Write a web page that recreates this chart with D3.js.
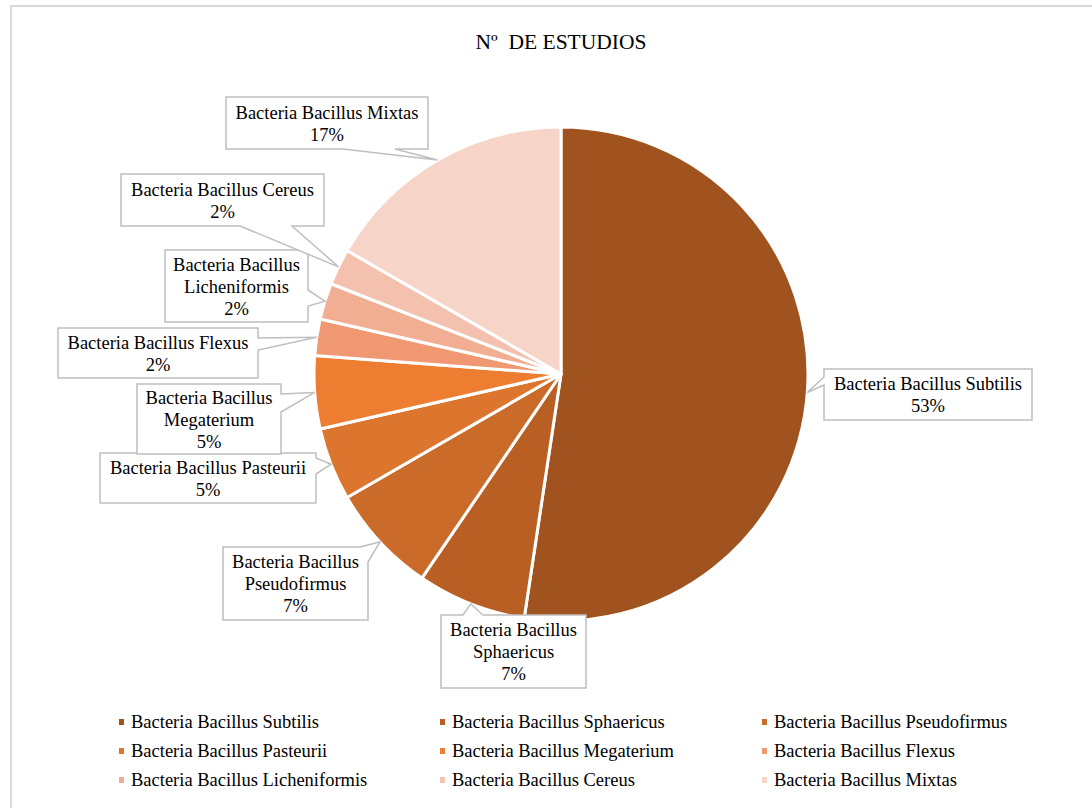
<!DOCTYPE html>
<html>
<head>
<meta charset="utf-8">
<script src="https://cdn.jsdelivr.net/npm/d3@7"></script>
<style>
  body { margin: 0; background: #fff; }
  text { font-family: "Liberation Serif", "Times New Roman", serif; fill: #000; }
</style>
</head>
<body>
<script>
// data (number of studies per category)
var categories = ["Bacteria Bacillus Subtilis", "Bacteria Bacillus Sphaericus", "Bacteria Bacillus Pseudofirmus",
  "Bacteria Bacillus Pasteurii", "Bacteria Bacillus Megaterium", "Bacteria Bacillus Flexus",
  "Bacteria Bacillus Licheniformis", "Bacteria Bacillus Cereus", "Bacteria Bacillus Mixtas"];
var studies = [22, 3, 3, 2, 2, 1, 1, 1, 7];
var pctLabels = ["53%", "7%", "7%", "5%", "5%", "2%", "2%", "2%", "17%"];
var colors = ["#A1531F", "#B95F24", "#CA6B2A", "#DC752E", "#ED7D31", "#F09871", "#F2AE92", "#F4C1AE", "#F7D4C8"];

var w = 1092, h = 808;
var cx = 561, cy = 374, r = 247;

// callout boxes: rect + which edge the pointer leaves from (b0,b1 = base along that edge)
var callouts = [
  {x: 824, y: 369, w: 208, h: 51, side: "left", b0: 377, b1: 385, lines: ["Bacteria Bacillus Subtilis"]},
  {x: 441, y: 615, w: 145, h: 73, side: "top", b0: 463, b1: 483, lines: ["Bacteria Bacillus", "Sphaericus"]},
  {x: 223, y: 547, w: 145, h: 73, side: "corner", b0: 360, b1: 562, lines: ["Bacteria Bacillus", "Pseudofirmus"]},
  {x: 100, y: 453, w: 216, h: 50, side: "right", b0: 458, b1: 474, lines: ["Bacteria Bacillus Pasteurii"]},
  {x: 137, y: 384, w: 144, h: 70, side: "right", b0: 394, b1: 412, lines: ["Bacteria Bacillus", "Megaterium"]},
  {x: 58, y: 328, w: 200, h: 50, side: "right", b0: 338, b1: 350, lines: ["Bacteria Bacillus Flexus"]},
  {x: 165, y: 250, w: 143, h: 72, side: "right", b0: 290, b1: 306, lines: ["Bacteria Bacillus", "Licheniformis"]},
  {x: 121, y: 174, w: 203, h: 52, side: "bottom", b0: 240, b1: 292, lines: ["Bacteria Bacillus Cereus"]},
  {x: 226, y: 97, w: 202, h: 52, side: "bottom", b0: 343, b1: 395, lines: ["Bacteria Bacillus Mixtas"]}
];

var svg = d3.select("body").append("svg")
  .attr("width", w)
  .attr("height", h);

// chart area border
svg.append("rect")
  .attr("x", 11).attr("y", 6)
  .attr("width", w + 20).attr("height", h + 20)
  .attr("fill", "none")
  .attr("stroke", "#D9D9D9")
  .attr("stroke-width", 2);

// title
svg.append("text")
  .attr("x", cx).attr("y", 48.5)
  .attr("text-anchor", "middle")
  .attr("font-size", 21.5)
  .attr("xml:space", "preserve")
  .text("Nº  DE ESTUDIOS");

var pie = d3.pie().sort(null).value(function(d) { return d; });
var arcs = pie(studies);
var arc = d3.arc().innerRadius(0).outerRadius(r);

var g = svg.append("g").attr("transform", "translate(" + cx + "," + cy + ")");
g.selectAll("path.slice")
  .data(arcs)
  .enter().append("path")
  .attr("class", "slice")
  .attr("d", arc)
  .attr("fill", function(d, i) { return colors[i]; })
  .attr("stroke", "#fff")
  .attr("stroke-width", 3)
  .attr("stroke-linejoin", "round");

// callouts
arcs.forEach(function(a, i) {
  var c = callouts[i];
  var mid = (a.startAngle + a.endAngle) / 2;
  var tx = cx + r * Math.sin(mid), ty = cy - r * Math.cos(mid);
  var x0 = c.x, y0 = c.y, x1 = c.x + c.w, y1 = c.y + c.h;
  var pts;
  if (c.side == "left") {
    pts = [[x0, y0], [x1, y0], [x1, y1], [x0, y1], [x0, c.b1], [tx, ty], [x0, c.b0]];
  } else if (c.side == "right") {
    pts = [[x0, y0], [x1, y0], [x1, c.b0], [tx, ty], [x1, c.b1], [x1, y1], [x0, y1]];
  } else if (c.side == "top") {
    pts = [[x0, y0], [c.b0, y0], [tx, ty], [c.b1, y0], [x1, y0], [x1, y1], [x0, y1]];
  } else if (c.side == "bottom") {
    pts = [[x0, y0], [x1, y0], [x1, y1], [c.b1, y1], [tx, ty], [c.b0, y1], [x0, y1]];
  } else {
    // top-right corner
    pts = [[x0, y0], [c.b0, y0], [tx, ty], [x1, c.b1], [x1, y1], [x0, y1]];
  }
  svg.append("path")
    .attr("d", "M" + pts.map(function(p) { return p.join(","); }).join("L") + "Z")
    .attr("fill", "#fff")
    .attr("stroke", "#BFBFBF")
    .attr("stroke-width", 1.5);

  var lines = c.lines.concat([pctLabels[i]]);
  var lh = 22;
  var top = c.y + c.h / 2 - (lines.length * lh) / 2;
  var t = svg.append("text")
    .attr("text-anchor", "middle")
    .attr("font-size", 18.5);
  lines.forEach(function(s, k) {
    t.append("tspan")
      .attr("x", c.x + c.w / 2)
      .attr("y", top + lh * k + 17.5)
      .text(s);
  });
});

// legend
var legX = [119, 440, 762];
var legY = [722, 751, 780];
var leg = svg.selectAll("g.leg")
  .data(categories)
  .enter().append("g")
  .attr("class", "leg")
  .attr("transform", function(d, i) { return "translate(" + legX[i % 3] + "," + legY[Math.floor(i / 3)] + ")"; });
leg.append("rect")
  .attr("x", 0).attr("y", -3)
  .attr("width", 5).attr("height", 6)
  .attr("fill", function(d, i) { return colors[i]; });
leg.append("text")
  .attr("x", 12).attr("y", 6)
  .attr("font-size", 18.5)
  .text(function(d) { return d; });
</script>
</body>
</html>
